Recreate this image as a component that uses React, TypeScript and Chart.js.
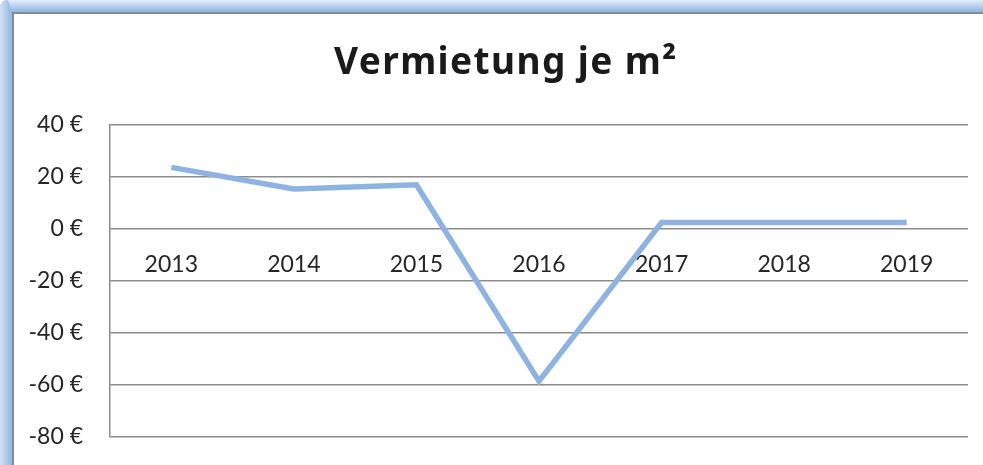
import React, { useEffect, useRef } from "react";
import { Chart, registerables } from "chart.js";

Chart.register(...registerables);

const years = ["2013", "2014", "2015", "2016", "2017", "2018", "2019"];
const rentPerSqm = [23.7, 15.4, 17.0, -58.5, 2.5, 2.5, 2.5];
const yMin = -80;
const yMax = 40;
const yStep = 20;
const titleText = "Vermietung je m²";

const W = 983;
const H = 465;

const framePlugin = {
  id: "frame",
  beforeDraw(chart: any) {
    const ctx = chart.ctx as CanvasRenderingContext2D;
    ctx.save();
    ctx.fillStyle = "#ffffff";
    ctx.fillRect(0, 0, W, H);
    const gTop = ctx.createLinearGradient(0, 0, 0, 11);
    gTop.addColorStop(0, "#e3eef9");
    gTop.addColorStop(1, "#95b8e4");
    ctx.fillStyle = gTop;
    ctx.beginPath();
    ctx.moveTo(8, 0);
    ctx.lineTo(W, 0);
    ctx.lineTo(W, 12);
    ctx.lineTo(12, 12);
    ctx.lineTo(0, 12);
    ctx.lineTo(0, 8);
    ctx.quadraticCurveTo(0, 0, 8, 0);
    ctx.fill();
    const gLeft = ctx.createLinearGradient(0, 0, 11, 0);
    gLeft.addColorStop(0, "#d4e2f1");
    gLeft.addColorStop(1, "#95b8e4");
    ctx.fillStyle = gLeft;
    ctx.beginPath();
    ctx.moveTo(0, 8);
    ctx.quadraticCurveTo(0, 0, 8, 0);
    ctx.lineTo(12, 12);
    ctx.lineTo(12, H);
    ctx.lineTo(0, H);
    ctx.closePath();
    ctx.fill();
    ctx.strokeStyle = "#8a8a8a";
    ctx.lineWidth = 2;
    ctx.beginPath();
    ctx.moveTo(13, H);
    ctx.lineTo(13, 13);
    ctx.lineTo(W, 13);
    ctx.stroke();
    ctx.restore();
  },
  afterDraw(chart: any) {
    const ctx = chart.ctx as CanvasRenderingContext2D;
    ctx.save();
    (ctx as any).letterSpacing = "1.4px";
    ctx.font = "bold 37px 'Noto Sans'";
    ctx.fillStyle = "#1a1a1a";
    ctx.textAlign = "left";
    ctx.textBaseline = "alphabetic";
    ctx.fillText(titleText, 334, 74);
    ctx.restore();
  },
};

export default function App() {
  const ref = useRef<HTMLCanvasElement>(null);

  useEffect(() => {
    if (!ref.current) return;
    const chart = new Chart(ref.current, {
      type: "line",
      data: {
        labels: years,
        datasets: [
          {
            data: rentPerSqm,
            borderColor: "#8eb3e2",
            borderWidth: 5.5,
            pointRadius: 0,
            tension: 0,
            fill: false,
          },
        ],
      },
      options: {
        responsive: false,
        animation: false,
        layout: { padding: { left: 14, top: 125, right: 15, bottom: 28 } },
        plugins: {
          legend: { display: false },
          tooltip: { enabled: false },
          title: { display: false },
        },
        scales: {
          x: {
            position: { y: 0 } as any,
            offset: true,
            afterFit: (s: any) => {
              s.height = 0;
            },
            grid: { display: false, drawTicks: false },
            border: { display: false },
            ticks: {
              color: "#262626",
              font: { family: "Lato", size: 23 },
              padding: 22,
              maxRotation: 0,
            },
          },
          y: {
            min: yMin,
            max: yMax,
            afterFit: (s: any) => {
              s.width = 96;
            },
            grid: {
              color: "#8c8c8c",
              lineWidth: 1.5,
              drawTicks: true,
              tickLength: 27,
              tickColor: "rgba(0,0,0,0)",
            },
            border: { display: true, color: "#8c8c8c", width: 1.5 },
            ticks: {
              stepSize: yStep,
              color: "#262626",
              font: { family: "Lato", size: 23 },
              padding: 0,
              callback: (v: any) => `${v} €`,
            },
          },
        },
      },
      plugins: [framePlugin],
    });
    return () => chart.destroy();
  }, []);

  return (
    <div style={{ position: "fixed", left: 0, top: 0, width: W, height: H, background: "#fff" }}>
      <canvas ref={ref} width={W} height={H} style={{ display: "block" }} />
    </div>
  );
}
